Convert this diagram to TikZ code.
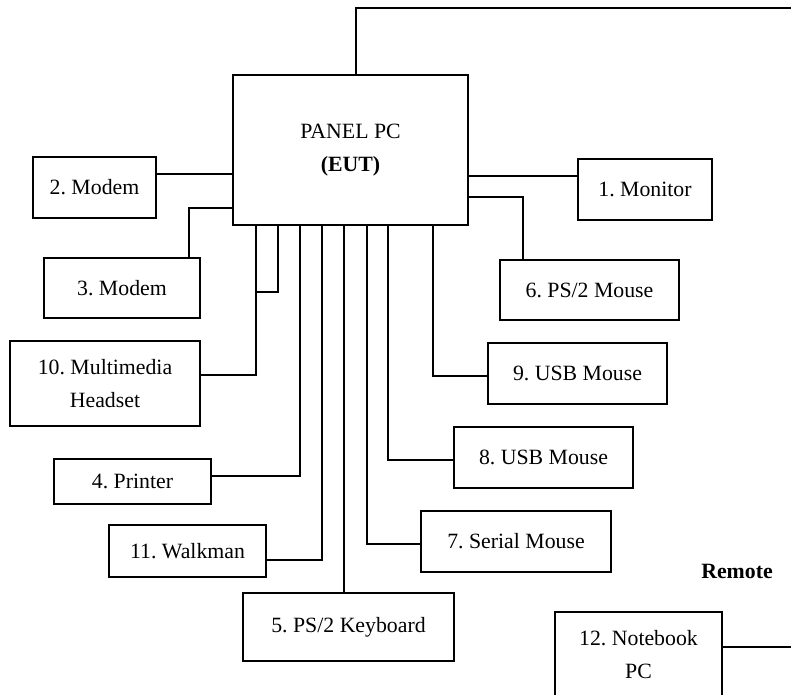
\documentclass[tikz,border=0pt]{standalone}
\usepackage{fontspec}
\setmainfont{Liberation Serif}
\frenchspacing
\begin{document}
\begin{tikzpicture}[x=0.025cm,y=-0.025cm]
	% Styles (MODIFIABLES)
	\tikzstyle{liaison}=[-,line width=1.1pt]
	\tikzstyle{boite}=[draw,line width=1.1pt,align=center,inner sep=0pt,font=\fontsize{15.5}{23}\selectfont]
	\tikzstyle{commentaire}=[black,font=\fontsize{15.5}{23}\selectfont\bfseries]
	% Cadre
	\clip (0,0) rectangle (791,695);
	% Noeuds (MODIFIABLES : Styles et positions)
	\node[boite,minimum width=5.875cm,minimum height=3.75cm] (pc) at (350.5,150) {PANEL PC\\\textbf{(EUT)}};
	%
	\node[boite,minimum width=3.35cm,minimum height=1.525cm] (moniteur) at (645,189.5) {1. Monitor};
	\node[boite,minimum width=3.075cm,minimum height=1.525cm] (modemA) at (94.5,187.5) {2. Modem};
	\node[boite,minimum width=3.9cm,minimum height=1.5cm] (modemB) at (122,288) {3. Modem};
	\node[boite,minimum width=3.925cm,minimum height=1.125cm] (imprimante) at (132.5,481.5) {4. Printer};
	\node[boite,minimum width=5.275cm,minimum height=1.7cm] (clavier) at (348.5,627) {5. PS/2 Keyboard};
	\node[boite,minimum width=4.475cm,minimum height=1.5cm] (sourisPS) at (589.5,290) {6. PS/2 Mouse};
	\node[boite,minimum width=4.75cm,minimum height=1.525cm] (sourisSerie) at (516,541.5) {7. Serial Mouse};
	\node[boite,minimum width=4.475cm,minimum height=1.525cm] (sourisUSBa) at (543.5,457.5) {8. USB Mouse};
	\node[boite,minimum width=4.475cm,minimum height=1.525cm] (sourisUSBb) at (577.5,373.5) {9. USB Mouse};
	\node[boite,minimum width=4.75cm,minimum height=2.125cm] (casque) at (105,383.5) {10. Multimedia\\Headset};
	\node[boite,minimum width=3.925cm,minimum height=1.3cm] (walkman) at (187.5,551) {11. Walkman};
	\node[boite,minimum width=4.175cm,minimum height=2.125cm] (portable) at (638.5,654.5) {12. Notebook\\PC};
	%
	\node[commentaire] (distant) at (737,571) {Remote};
	% Points libres (bords et jonction)
	\coordinate (bordH) at (800,8);
	\coordinate (bordD) at (800,647);
	\coordinate (jonction) at (256,292);
	% Liaisons (MODIFIABLES : Styles)
	\draw[liaison] (pc.north -| 356,0) |- (bordH);
	\draw[liaison] (pc.east |- 0,176) -- (moniteur.west |- 0,176);
	\draw[liaison] (pc.west |- 0,174) -- (modemA.east |- 0,174);
	\draw[liaison] (pc.west |- 0,208) -| (189,0 |- modemB.north);
	\draw[liaison] (pc.east |- 0,197) -| (523,0 |- sourisPS.north);
	\draw[liaison] (pc.south -| 256,0) |- (casque.east |- 0,375);
	\draw[liaison] (pc.south -| 278,0) |- (jonction);
	\draw[liaison] (pc.south -| 300,0) |- (imprimante.east |- 0,476);
	\draw[liaison] (pc.south -| 322,0) |- (walkman.east |- 0,560);
	\draw[liaison] (pc.south -| 344,0) -- (clavier.north -| 344,0);
	\draw[liaison] (pc.south -| 367,0) |- (sourisSerie.west |- 0,544);
	\draw[liaison] (pc.south -| 388,0) |- (sourisUSBa.west |- 0,460);
	\draw[liaison] (pc.south -| 433,0) |- (sourisUSBb.west |- 0,376);
	\draw[liaison] (portable.east |- 0,647) -- (bordD);
\end{tikzpicture}
\end{document}
